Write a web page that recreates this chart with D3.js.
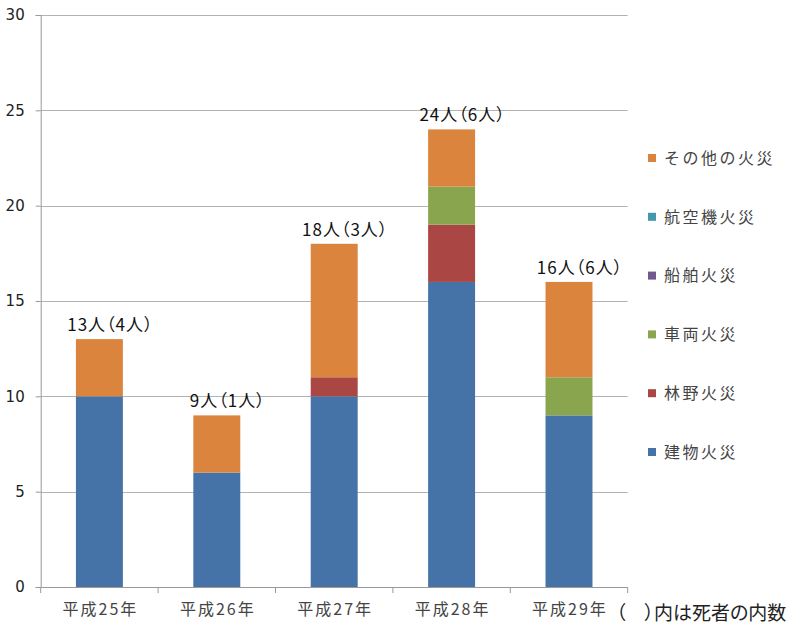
<!DOCTYPE html>
<html><head><meta charset="utf-8">
<script src="https://cdn.jsdelivr.net/npm/d3@7"></script>
<style>
html,body{margin:0;padding:0;background:#fff;}
svg{display:block;font-family:"Noto Sans CJK JP","Noto Sans",sans-serif;}
.vl,.note{font-feature-settings:"palt";}
</style></head>
<body>
<svg id="c" width="800" height="634"></svg>
<script>
const categories = ["平成25年","平成26年","平成27年","平成28年","平成29年"];
const seriesNames = ["建物火災","林野火災","車両火災","船舶火災","航空機火災","その他の火災"];
const seriesColors = ["#4572A7","#AA4643","#89A54E","#71588F","#4198AF","#DB843D"];
const building = [10,6,10,16,9];
const forest   = [0,0,1,3,0];
const vehicle  = [0,0,0,2,2];
const ship     = [0,0,0,0,0];
const aircraft = [0,0,0,0,0];
const other    = [3,3,7,3,5];
const deaths   = [4,1,3,6,6];
const yTicks   = [0,5,10,15,20,25,30];
const noteText = "（　）内は死者の内数";

(function(){
const seriesValues = [building, forest, vehicle, ship, aircraft, other];
const table = categories.map((c,i)=>{
  const row = {cat:c};
  seriesNames.forEach((s,j)=>row[s]=seriesValues[j][i]);
  return row;
});
const totals = categories.map((c,i)=>d3.sum(seriesValues, v=>v[i]));

const svg = d3.select("#c");
const pl = 40.7, pr = 627.7, pt = 15, pb = 587;

const x = d3.scaleBand().domain(categories).range([pl,pr]).paddingInner(0.6).paddingOuter(0.3);
const y = d3.scaleLinear().domain([0,30]).range([pb,pt]);

svg.append("g").selectAll("line").data(yTicks.filter(t=>t>0)).join("line")
  .attr("x1",pl).attr("x2",pr)
  .attr("y1",d=>Math.round(y(d))+0.5).attr("y2",d=>Math.round(y(d))+0.5)
  .attr("stroke","#b3b3b3").attr("stroke-width",1);

const stack = d3.stack().keys(seriesNames)(table);
svg.append("g").selectAll("g").data(stack).join("g")
  .attr("fill",(d,i)=>seriesColors[i])
  .selectAll("rect").data(d=>d).join("rect")
  .attr("x",d=>x(d.data.cat))
  .attr("width",x.bandwidth())
  .attr("y",d=>y(d[1]))
  .attr("height",d=>y(d[0])-y(d[1]));

const yAxis = d3.axisLeft(y).tickValues(yTicks).tickSize(5).tickPadding(11);
const gy = svg.append("g").attr("transform",`translate(${pl},0)`).call(yAxis);
gy.select(".domain").attr("stroke","#999");
gy.selectAll(".tick line").attr("stroke","#999");
gy.selectAll(".tick text").attr("fill","#222").attr("font-size","15px")
  .attr("font-family","'DejaVu Sans',sans-serif");

const gx = svg.append("g").attr("transform",`translate(0,${pb})`);
gx.append("line").attr("x1",pl).attr("x2",pr).attr("y1",0.5).attr("y2",0.5).attr("stroke","#999");
const boundaries = categories.map(c=>x(c)-x.step()*x.paddingOuter()).concat([pr]);
gx.selectAll("line.tk").data(boundaries).join("line").attr("class","tk")
  .attr("x1",d=>d).attr("x2",d=>d).attr("y1",0).attr("y2",6).attr("stroke","#999");
gx.selectAll("text").data(categories).join("text")
  .attr("x",d=>x(d)+x.bandwidth()/2+1).attr("y",28)
  .attr("text-anchor","middle").attr("fill","#444").attr("font-size","16px")
  .attr("letter-spacing","2px")
  .text(d=>d);

svg.append("g").selectAll("text").data(categories).join("text")
  .attr("class","vl")
  .attr("x",d=>x(d)+x.bandwidth()/2+11)
  .attr("y",(d,i)=>y(totals[i])-8)
  .attr("text-anchor","middle").attr("fill","#111").attr("font-size","17px")
  .attr("letter-spacing","1px")
  .text((d,i)=>`${totals[i]}人（${deaths[i]}人）`);

const legendOrder = seriesNames.map((s,i)=>({s,c:seriesColors[i]})).reverse();
const lg = svg.append("g").selectAll("g").data(legendOrder).join("g")
  .attr("transform",(d,i)=>`translate(648,${158 + i*58.8})`);
lg.append("rect").attr("x",0).attr("y",-4).attr("width",8).attr("height",8).attr("fill",d=>d.c);
lg.append("text").attr("x",16).attr("y",0).attr("dy","0.36em")
  .attr("fill","#444").attr("font-size","16px").attr("letter-spacing","2.5px")
  .text(d=>d.s);

svg.append("text").attr("class","note").attr("x",616).attr("y",620).attr("fill","#222").attr("font-size","19px")
  .text(noteText);
})();
</script>
</body></html>
